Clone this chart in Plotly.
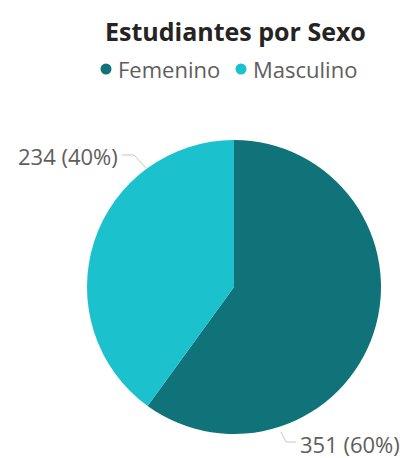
import plotly.graph_objects as go

# Student counts by sex
categories = ["Femenino", "Masculino"]
counts = [351, 234]
colors = ["#0F7379", "#1BC1CD"]

W, H = 411, 458
cx, cy, r = 234, 287, 147  # pie centre and radius in pixels

def px(x):
    return x / W

def py(y):
    return 1 - y / H

total = sum(counts)
labels = [f"{v} ({round(100 * v / total)}%)" for v in counts]

fig = go.Figure()
fig.add_trace(go.Pie(
    labels=categories,
    values=counts,
    marker=dict(colors=colors, line=dict(width=0)),
    sort=False,
    direction="clockwise",
    rotation=0,
    textinfo="none",
    hoverinfo="label+value+percent",
    showlegend=False,
    domain=dict(x=[px(cx - r), px(cx + r)], y=[py(cy + r), py(cy - r)]),
))

font_family = "Open Sans, Noto Sans, sans-serif"

# Title
fig.add_annotation(
    x=px(235), y=py(31), xref="paper", yref="paper",
    text="<b>Estudiantes por Sexo</b>", showarrow=False,
    font=dict(family=font_family, size=25, color="#252423"),
    xanchor="center", yanchor="middle",
)

# Legend: round marker followed by the category name
legend_x = [100, 235]
legend_y = 69
for name, c, lx in zip(categories, colors, legend_x):
    dot_r = 5.5
    fig.add_shape(
        type="circle", xref="paper", yref="paper",
        x0=px(lx + 6 - dot_r), x1=px(lx + 6 + dot_r),
        y0=py(legend_y + dot_r), y1=py(legend_y - dot_r),
        fillcolor=c, line=dict(width=0),
    )
    fig.add_annotation(
        x=px(lx + 16), y=py(legend_y), xref="paper", yref="paper",
        text=name, showarrow=False,
        font=dict(family=font_family, size=22, color="#605E5C"),
        xanchor="left", yanchor="middle",
    )

# Outside data labels with leader lines
label_specs = [
    # (text anchor x, y, xanchor, leader polyline)
    (298, 444, "left", [(281, 432), (286, 442), (296, 442)]),
    (120, 156, "right", [(146, 168), (134, 155), (122, 155)]),
]
for text, (tx, ty, xa, pts) in zip(labels, label_specs):
    fig.add_annotation(
        x=px(tx), y=py(ty), xref="paper", yref="paper",
        text=text, showarrow=False,
        font=dict(family=font_family, size=22, color="#605E5C"),
        xanchor=xa, yanchor="middle",
    )
    path = "M " + " L ".join(f"{px(x)},{py(y)}" for x, y in pts)
    fig.add_shape(type="path", path=path, xref="paper", yref="paper",
                  line=dict(color="#C8C6C4", width=1))

fig.update_layout(
    width=W, height=H,
    margin=dict(l=0, r=0, t=0, b=0),
    paper_bgcolor="white",
    plot_bgcolor="white",
)

fig.write_html("out.html")
